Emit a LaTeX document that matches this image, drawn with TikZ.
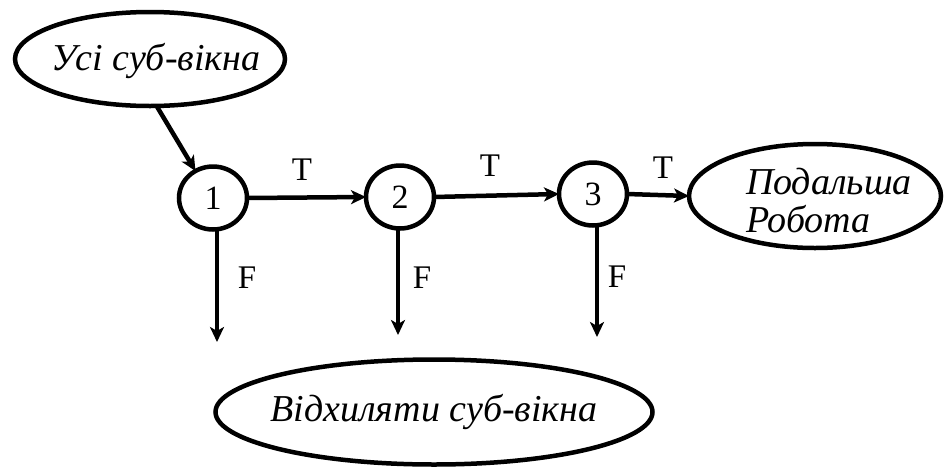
\documentclass[tikz,border=0pt]{standalone}
\usepackage{fontspec}
\newfontfamily\tnr{Liberation Serif}
\usetikzlibrary{shapes.geometric,arrows.meta}
\begin{document}
\begin{tikzpicture}[x=1pt,y=-1pt,
  every node/.style={inner sep=0pt,outer sep=0pt},
  oval/.style={draw,line width=4.5pt,ellipse},
  cnode/.style={draw,line width=4.5pt,ellipse,minimum width=68pt,minimum height=63pt,font=\tnr\fontsize{34}{34}\selectfont},
  lbl/.style={font=\tnr\fontsize{33}{33}\selectfont},
  ital/.style={font=\tnr\fontsize{38}{38}\selectfont\itshape},
  arr/.style={line width=4.5pt,-{Stealth[length=15pt,width=14pt,inset=4pt]}}]
\useasboundingbox (0,0) rectangle (945,469);
\node[oval,minimum width=270pt,minimum height=94pt] (e1) at (150,59) {};
\node[ital] (e1t) at (156,61) {Усі суб-вікна};
\node[cnode] (c1) at (213,198) {1};
\node[cnode] (c2) at (400,197) {2};
\node[cnode] (c3) at (593,194) {3};
\node[oval,minimum width=252pt,minimum height=104pt] (e2) at (815,196) {};
\node[ital,align=left,anchor=west] (e2t) at (746,201) {Подальша\\Робота};
\node[oval,minimum width=437pt,minimum height=105pt] (e3) at (434,412) {};
\node[ital] (e3t) at (434,412) {Відхиляти суб-вікна};
\coordinate (f1) at (217,342);
\coordinate (f2) at (398,335);
\coordinate (f3) at (597,337);
\draw[arr] (e1.-82) -- (c1.123);
\draw[arr] (c1.east) -- (c2.west);
\draw[arr] (c2.east) -- (c3.west);
\draw[arr] (c3.east) -- (e2.west);
\draw[arr] (c1.south -| f1) -- (f1);
\draw[arr] (c2.south -| f2) -- (f2);
\draw[arr] (c3.south -| f3) -- (f3);
\node[lbl] (t1) at (302,170) {T};
\node[lbl] (t2) at (490,166) {T};
\node[lbl] (t3) at (663,168) {T};
\node[lbl] (fl1) at (247,278) {F};
\node[lbl] (fl2) at (422,278) {F};
\node[lbl] (fl3) at (617,277) {F};
\end{tikzpicture}
\end{document}
